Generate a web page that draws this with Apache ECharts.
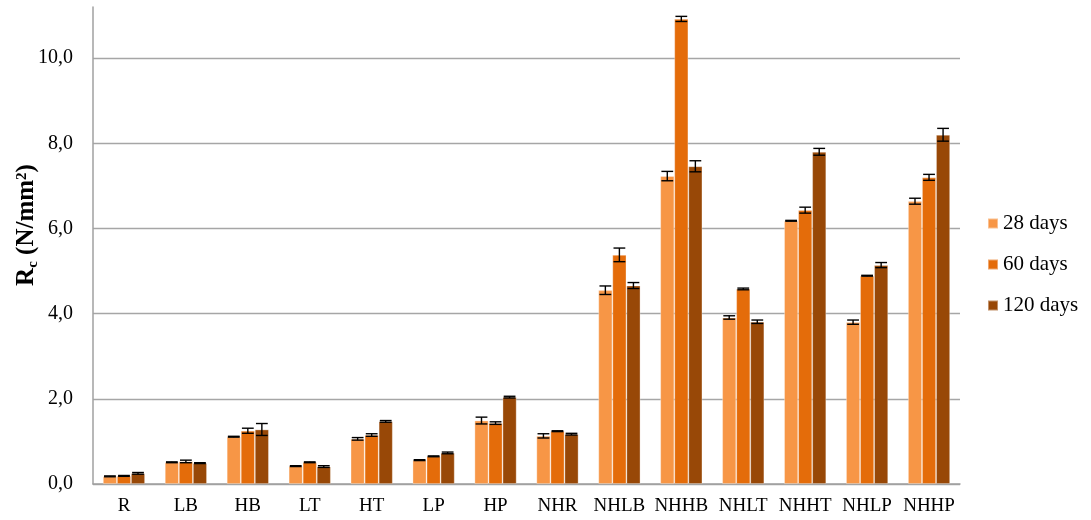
<!DOCTYPE html>
<html>
<head>
<meta charset="utf-8">
<script src="https://cdn.jsdelivr.net/npm/echarts@6/dist/echarts.min.js"></script>
<style>html,body{margin:0;padding:0;background:#fff;}#c{width:1091px;height:520px;}</style>
</head>
<body>
<div id="c"></div>
<script>
var categories = ['R','LB','HB','LT','HT','LP','HP','NHR','NHLB','NHHB','NHLT','NHHT','NHLP','NHHP'];
var seriesNames = ['28 days','60 days','120 days'];
var d28  = [0.18,0.51,1.11,0.42,1.06,0.56,1.49,1.13,4.55,7.23,3.91,6.18,3.80,6.64];
var d60  = [0.19,0.53,1.25,0.51,1.15,0.65,1.43,1.24,5.38,10.92,4.58,6.43,4.89,7.20];
var d120 = [0.25,0.49,1.28,0.41,1.47,0.73,2.04,1.17,4.66,7.46,3.81,7.80,5.14,8.20];
var e28  = [0.01,0.01,0.01,0.01,0.03,0.01,0.08,0.05,0.10,0.11,0.04,0.01,0.05,0.07];
var e60  = [0.01,0.03,0.06,0.01,0.03,0.01,0.03,0.01,0.16,0.06,0.02,0.07,0.01,0.07];
var e120 = [0.02,0.01,0.14,0.02,0.02,0.02,0.02,0.02,0.07,0.13,0.04,0.08,0.06,0.15];
var yTicks = [0,2,4,6,8,10];

var colors = ['#F79646','#E46C0A','#984807'];
var values = [d28,d60,d120];
var errs = [e28,e60,e120];
var catGap = 0.32;
var font = '"Liberation Serif","Times New Roman",serif';

var chart = echarts.init(document.getElementById('c'));
var series = [];
values.forEach(function(v,i){
  series.push({
    name: seriesNames[i], type:'bar', data: v,
    barGap: '0%', barCategoryGap: (catGap*100)+'%',
    itemStyle:{color: colors[i], borderColor:'rgba(255,255,255,0.4)', borderWidth:0.8},
    z:2
  });
});
values.forEach(function(v,i){
  series.push({
    type:'custom', name: 'err'+i, z:5, silent:true,
    data: v.map(function(val,k){ return [k, val, errs[i][k]]; }),
    renderItem: function(params, api){
      var k = api.value(0), val = api.value(1), er = api.value(2);
      var band = api.size([1,0])[0];
      var bw = band*(1-catGap)/3;
      var c = api.coord([k, val]);
      var x = c[0] + (i-1)*bw;
      var yT = api.coord([k, val+er])[1];
      var yB = api.coord([k, val-er])[1];
      var hw = bw*0.42;
      var st = {stroke:'#000', lineWidth:1.4};
      return {type:'group', children:[
        {type:'line', shape:{x1:x,y1:yT,x2:x,y2:yB}, style:st},
        {type:'line', shape:{x1:x-hw,y1:yT,x2:x+hw,y2:yT}, style:st},
        {type:'line', shape:{x1:x-hw,y1:yB,x2:x+hw,y2:yB}, style:st}
      ]};
    }
  });
});

chart.setOption({
  animation:false,
  backgroundColor:'#fff',
  grid:{left:93, right:131, top:7, bottom:36},
  legend:{
    data: seriesNames, orient:'vertical', left:982, top:208,
    itemWidth:10, itemHeight:10, itemGap:20, icon:'rect',
    textStyle:{fontFamily:font, fontSize:21, color:'#000', lineHeight:21}
  },
  graphic:[{
    type:'text', x:27, y:225, rotation:Math.PI/2,
    style:{
      text:'{b|R}{sub|c}{b| (N/mm}{sup|2}{b|)}',
      x:0, y:0, align:'center', verticalAlign:'middle',
      rich:{
        b:{fontFamily:font, fontSize:25, fontWeight:'bold', fill:'#000', lineHeight:30},
        sub:{fontFamily:font, fontSize:15, fontWeight:'bold', fill:'#000', lineHeight:30, padding:[12,0,0,0]},
        sup:{fontFamily:font, fontSize:15, fontWeight:'bold', fill:'#000', lineHeight:30, padding:[0,0,10,0]}
      }
    }
  }],
  xAxis:{
    type:'category', data: categories,
    axisLine:{lineStyle:{color:'#a0a0a0', width:1.5}},
    axisTick:{show:false},
    axisLabel:{fontFamily:font, fontSize:19, color:'#000', margin:13, interval:0}
  },
  yAxis:{
    type:'value', min:0, max:11.2, interval:2,
    axisLine:{show:true, lineStyle:{color:'#a0a0a0', width:1.5}},
    axisTick:{show:false},
    splitLine:{show:true, showMaxLine:false, lineStyle:{color:'#a6a6a6', width:1.3}},
    axisLabel:{
      fontFamily:font, fontSize:20, color:'#000', margin:20, showMaxLabel:false,
      formatter:function(v){ return yTicks.indexOf(Math.round(v*1000)/1000) >= 0 ? v.toFixed(1).replace('.',',') : ''; }
    }
  },
  series: series
});
</script>
</body>
</html>
